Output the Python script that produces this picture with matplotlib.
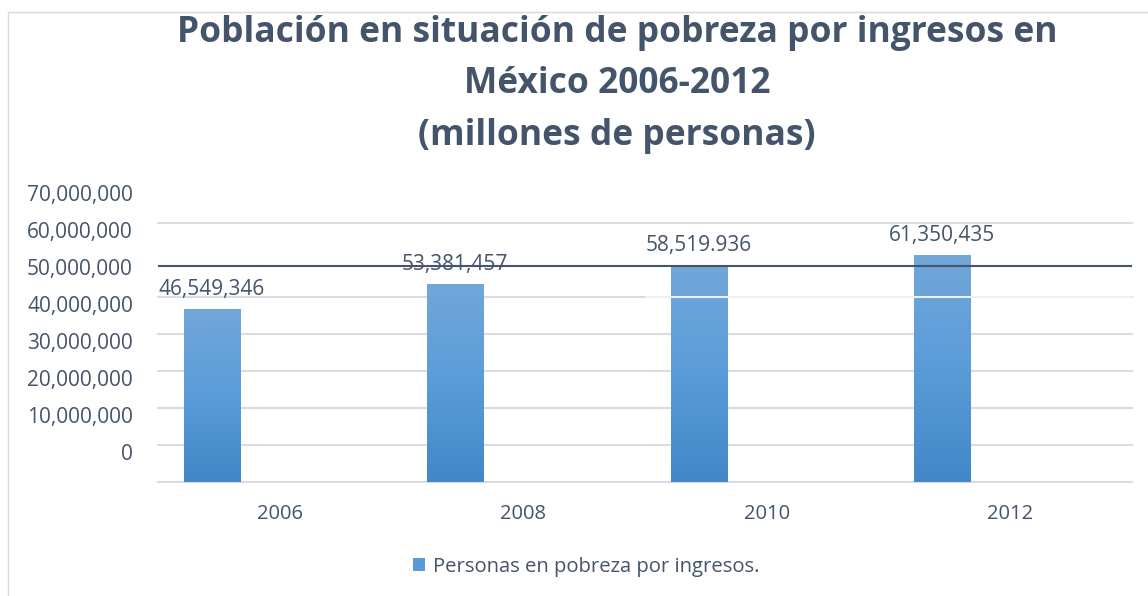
import matplotlib
matplotlib.use("Agg")
import matplotlib.pyplot as plt
import numpy as np
from matplotlib.patches import Patch, Rectangle
from matplotlib.transforms import ScaledTranslation
from matplotlib.colors import LinearSegmentedColormap

# data
years = ["2006", "2008", "2010", "2012"]
poverty = [46549346, 53381457, 58519936, 61350435]
value_labels = ["46,549,346", "53,381,457", "58,519.936", "61,350,435"]
y_ticks = [0, 10000000, 20000000, 30000000, 40000000, 50000000, 60000000, 70000000]
ref_line = 58400000  # dark horizontal rule drawn across the plot

title_lines = ["Población en situación de pobreza por ingresos en",
               "México 2006-2012",
               "(millones de personas)"]
legend_label = "Personas en pobreza por ingresos."

TEXT = "#44546A"
GRID = "#D9DDE3"
W, H = 1148, 596

plt.rcParams["font.family"] = ["Open Sans", "DejaVu Sans"]

fig = plt.figure(figsize=(W / 100, H / 100), dpi=100)
ax = fig.add_axes([158 / W, 1 - 482 / H, (1132 - 158) / W, (482 - 223) / H])

# light chart frame
fig.patches.append(Rectangle((8 / W, -0.05), 1.2, 1 - 12 / H + 0.05, transform=fig.transFigure,
                             fill=False, edgecolor="#D9D9D9", lw=1))

x = np.arange(len(years))
bars = ax.bar(x - 0.28, poverty, width=0.23, color="none", zorder=2)

# vertical gradient fill for each bar
cmap = LinearSegmentedColormap.from_list("bar", ["#4287C7", "#5A9CD9", "#72A7DA"])
grad = np.linspace(0, 1, 256).reshape(-1, 1)
for b in bars:
    x0, w, h = b.get_x(), b.get_width(), b.get_height()
    ax.imshow(grad, extent=[x0, x0 + w, 0, h], origin="lower", aspect="auto",
              cmap=cmap, zorder=2)

for xi, v, lbl in zip(x - 0.28, poverty, value_labels):
    ax.annotate(lbl, (xi, v), xytext=(0, 20), textcoords="offset pixels",
                ha="center", va="center", fontsize=15, color=TEXT, zorder=5)

ax.axhline(ref_line, color=TEXT, lw=1.5, zorder=4)
ax.hlines(50000000, 1.5, 3.5, color="#EEF0F3", lw=1.5, zorder=3)

ax.set_xlim(-0.5, 3.5)
ax.set_ylim(0, 70000000)
ax.set_xticks(x)
ax.set_xticklabels(years)
ax.set_yticks(y_ticks)
ax.set_yticklabels([f"{t:,.0f}" for t in y_ticks])
ax.tick_params(axis="both", length=0, labelsize=15, labelcolor=TEXT)
ax.tick_params(axis="y", pad=18)
ax.tick_params(axis="x", pad=16, labelsize=14.5)
for s in ax.spines.values():
    s.set_visible(False)

ax.set_axisbelow(True)
ax.yaxis.grid(True, color=GRID, lw=1.5)
gridlines = ax.yaxis.get_gridlines()
for gl in gridlines:
    gl.set_clip_on(False)
gridlines[6].set_visible(False)

# tick labels sit higher than their gridlines in the reference
shift = ScaledTranslation(0, 0.30, fig.dpi_scale_trans)
for lbl in ax.get_yticklabels():
    lbl.set_transform(lbl.get_transform() + shift)

baselines = [42, 93, 145]
for line, yb in zip(title_lines, baselines):
    fig.text(617 / W, 1 - yb / H, line, ha="center", va="baseline", fontsize=25.5,
             fontweight="bold", color=TEXT)

handle = Patch(facecolor="#5A9AD5", edgecolor="none")
fig.legend(handles=[handle], labels=[legend_label], loc="center left",
           bbox_to_anchor=(413 / W, 1 - 567 / H), frameon=False, fontsize=14.6,
           labelcolor=TEXT, handlelength=0.6, handleheight=0.6, handletextpad=0.4,
           borderpad=0, borderaxespad=0)

fig.savefig("out.png", dpi=100)
